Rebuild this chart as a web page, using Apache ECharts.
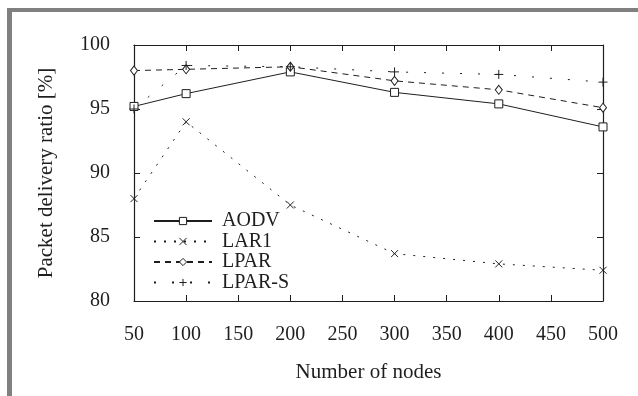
<!DOCTYPE html>
<html>
<head>
<meta charset="utf-8">
<script src="https://cdn.jsdelivr.net/npm/echarts@6/dist/echarts.min.js"></script>
<style>
  html, body { margin: 0; padding: 0; background: #fff; }
  #frame {
    position: absolute; left: 7px; top: 8px; right: 0; bottom: 0;
    border-left: 5px solid #808080; border-top: 4px solid #808080;
  }
  #chart { position: absolute; left: 0; top: 0; width: 638px; height: 396px; }
</style>
</head>
<body>
<div id="frame"></div>
<div id="chart"></div>
<script>
// Number of nodes in each simulation run
const nodes = [50, 100, 200, 300, 400, 500];

// Packet delivery ratio (%) per protocol
const aodv  = [95.2, 96.2, 97.9, 96.3, 95.4, 93.6];
const lar1  = [88.0, 94.0, 87.5, 83.7, 82.9, 82.4];
const lpar  = [98.0, 98.1, 98.3, 97.2, 96.5, 95.1];
const lparS = [95.0, 98.4, 98.3, 97.9, 97.7, 97.1];

const seriesNames = ['AODV', 'LAR1', 'LPAR', 'LPAR-S'];

const ink = '#1e1e1e';
const font = '"Liberation Serif", "DejaVu Serif", serif';

const crossSym = 'path://M0,0L10,10M10,0L0,10';
const plusSym = 'path://M5,0L5,10M0,5L10,5';

function pairs(ys) { return nodes.map((x, i) => [x, ys[i]]); }

function lineSeries(name, ys, symbol, size, dash, hollow) {
  return {
    name: name,
    type: 'line',
    data: pairs(ys),
    symbol: symbol,
    symbolSize: size,
    showSymbol: true,
    lineStyle: { color: ink, width: 1, type: dash },
    itemStyle: {
      color: hollow ? '#fff' : ink,
      borderColor: ink,
      borderWidth: 1
    },
    emphasis: { disabled: true },
    animation: false
  };
}

const chart = echarts.init(document.getElementById('chart'), null, { renderer: 'canvas' });

const tickStyle = { inside: true, length: 6, lineStyle: { color: ink, width: 1 } };
const axisLineStyle = { show: true, lineStyle: { color: ink, width: 1.2 } };

chart.setOption({
  backgroundColor: 'transparent',
  textStyle: { fontFamily: font },
  grid: { left: 134, right: 35, top: 45, bottom: 95, show: false },
  legend: {
    show: true,
    orient: 'vertical',
    left: 148,
    top: 206,
    itemWidth: 58,
    itemHeight: 9,
    itemGap: 0.5,
    data: seriesNames,
    itemStyle: { borderWidth: 1 },
    textStyle: { fontFamily: font, fontSize: 20, color: ink, lineHeight: 20, padding: [0, 0, 0, 5] }
  },
  xAxis: [
    {
      type: 'value', min: 50, max: 500, interval: 50,
      name: 'Number of nodes', nameLocation: 'middle', nameGap: 61,
      nameTextStyle: { fontFamily: font, fontSize: 21, color: ink },
      axisLine: axisLineStyle, axisTick: tickStyle,
      axisLabel: { fontFamily: font, fontSize: 20, color: ink, margin: 24 },
      splitLine: { show: false }
    },
    {
      type: 'value', position: 'top', min: 50, max: 500, interval: 50,
      axisLine: axisLineStyle, axisTick: tickStyle,
      axisLabel: { show: false }, splitLine: { show: false }
    }
  ],
  yAxis: [
    {
      type: 'value', min: 80, max: 100, interval: 5,
      name: 'Packet delivery ratio [%]', nameLocation: 'middle', nameGap: 77,
      nameTextStyle: { fontFamily: font, fontSize: 21, color: ink },
      axisLine: axisLineStyle, axisTick: tickStyle,
      axisLabel: { fontFamily: font, fontSize: 20, color: ink, margin: 24 },
      splitLine: { show: false }
    },
    {
      type: 'value', position: 'right', min: 80, max: 100, interval: 5,
      axisLine: axisLineStyle, axisTick: tickStyle,
      axisLabel: { show: false }, splitLine: { show: false }
    }
  ],
  series: [
    lineSeries('AODV', aodv, 'rect', 8, 'solid', true),
    lineSeries('LAR1', lar1, crossSym, 7, [2, 8], false),
    lineSeries('LPAR', lpar, 'diamond', [7, 9], [6, 5], true),
    lineSeries('LPAR-S', lparS, plusSym, 9, [2, 16], false)
  ]
});
</script>
</body>
</html>
